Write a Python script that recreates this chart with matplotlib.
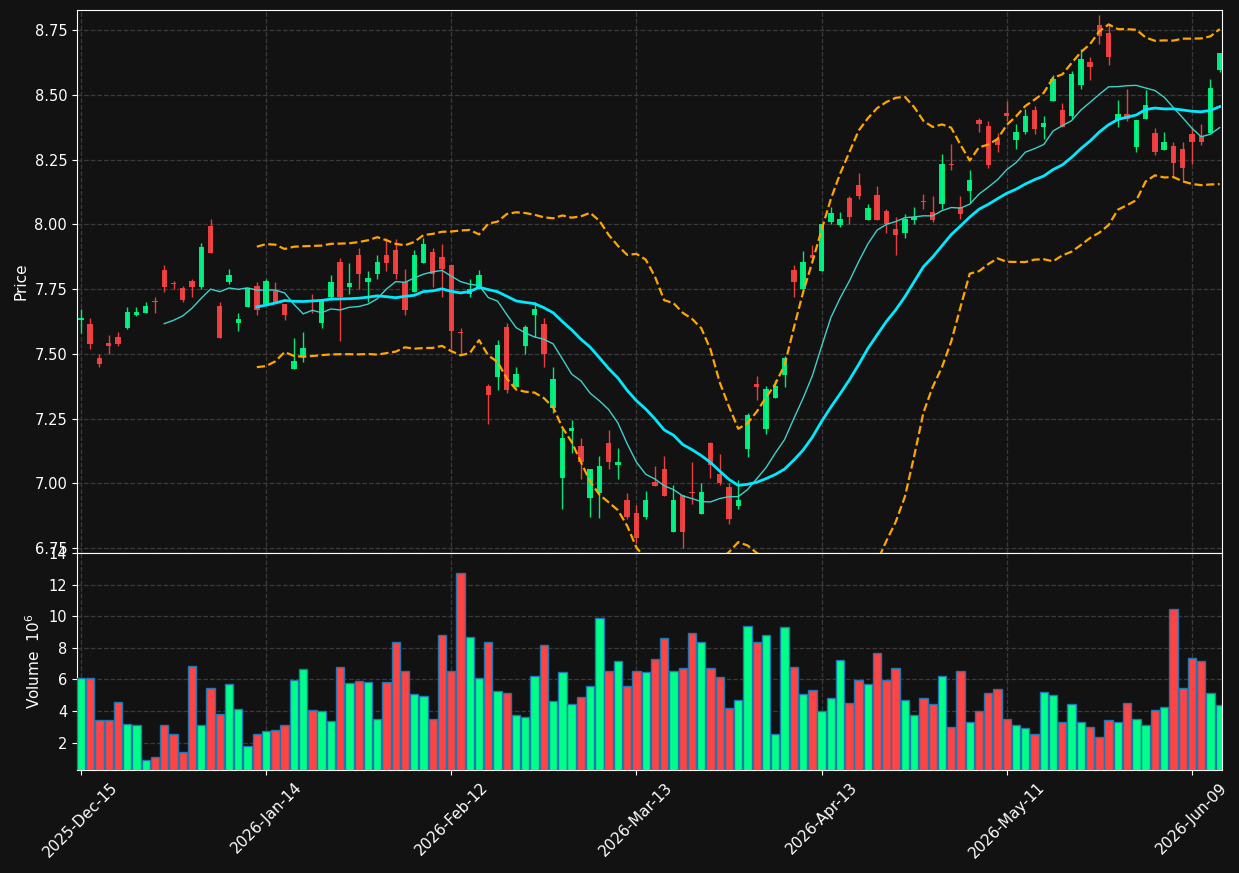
import numpy as np
import pandas as pd
from matplotlib import pyplot as plt
from matplotlib.ticker import MultipleLocator, FormatStrFormatter

# daily OHLC (price) and volume (millions), one row per trading day
opens = [7.631, 7.614, 7.483, 7.541, 7.565, 7.599, 7.650, 7.658, 7.703, 7.823,
         7.774, 7.753, 7.780, 7.758, 7.993, 7.684, 7.778, 7.619, 7.681, 7.761,
         7.694, 7.742, 7.691, 7.441, 7.492, 7.705, 7.619, 7.718, 7.854, 7.758,
         7.881, 7.778, 7.809, 7.881, 7.900, 7.778, 7.739, 7.851, 7.892, 7.873,
         7.842, 7.583, 7.730, 7.752, 7.374, 7.410, 7.602, 7.372, 7.530, 7.650,
         7.614, 7.291, 7.020, 7.202, 7.143, 6.943, 6.962, 7.154, 7.070, 6.934,
         6.884, 6.870, 7.003, 7.054, 6.812, 6.953, 6.964, 6.881, 7.154, 7.034,
         6.984, 6.912, 7.132, 7.382, 7.210, 7.329, 7.418, 7.823, 7.751, 7.882,
         7.820, 8.009, 7.998, 8.101, 8.151, 8.017, 8.112, 8.051, 7.981, 7.968,
         8.017, 8.089, 8.049, 8.078, 8.232, 8.069, 8.129, 8.402, 8.379, 8.329,
         8.429, 8.326, 8.357, 8.441, 8.378, 8.477, 8.441, 8.419, 8.539, 8.629,
         8.769, 8.741, 8.402, 8.428, 8.299, 8.406, 8.352, 8.288, 8.303, 8.290,
         8.351, 8.342, 8.354, 8.595]
highs = [7.672, 7.640, 7.501, 7.572, 7.583, 7.682, 7.682, 7.702, 7.721, 7.842,
         7.780, 7.762, 7.791, 7.930, 8.020, 7.702, 7.829, 7.659, 7.756, 7.779,
         7.791, 7.779, 7.691, 7.563, 7.583, 7.733, 7.708, 7.803, 7.872, 7.852,
         7.910, 7.821, 7.881, 7.949, 7.943, 7.829, 7.900, 7.949, 7.910, 7.923,
         7.842, 7.601, 7.790, 7.823, 7.382, 7.552, 7.620, 7.450, 7.613, 7.700,
         7.640, 7.450, 7.208, 7.243, 7.174, 7.054, 7.104, 7.204, 7.135, 6.964,
         6.915, 6.970, 7.067, 7.105, 6.992, 6.953, 7.083, 7.002, 7.161, 7.112,
         7.002, 7.012, 7.273, 7.413, 7.376, 7.399, 7.492, 7.842, 7.897, 7.922,
         8.001, 8.067, 8.049, 8.110, 8.200, 8.080, 8.148, 8.061, 8.030, 8.042,
         8.069, 8.119, 8.110, 8.271, 8.310, 8.110, 8.209, 8.410, 8.400, 8.355,
         8.477, 8.389, 8.447, 8.458, 8.419, 8.576, 8.470, 8.593, 8.679, 8.648,
         8.808, 8.773, 8.479, 8.522, 8.402, 8.519, 8.371, 8.358, 8.320, 8.320,
         8.376, 8.389, 8.561, 8.661]
lows = [7.582, 7.520, 7.450, 7.501, 7.530, 7.595, 7.648, 7.656, 7.658, 7.739,
        7.752, 7.702, 7.721, 7.752, 7.888, 7.561, 7.770, 7.588, 7.681, 7.650,
        7.694, 7.700, 7.631, 7.441, 7.470, 7.659, 7.601, 7.708, 7.550, 7.733,
        7.752, 7.700, 7.791, 7.821, 7.791, 7.650, 7.739, 7.851, 7.758, 7.721,
        7.517, 7.498, 7.721, 7.752, 7.230, 7.360, 7.350, 7.372, 7.501, 7.566,
        7.450, 7.273, 6.902, 7.118, 7.015, 6.871, 6.864, 7.054, 7.015, 6.861,
        6.770, 6.863, 6.989, 6.951, 6.812, 6.751, 6.921, 6.881, 7.021, 6.992,
        6.844, 6.902, 7.103, 7.322, 7.192, 7.329, 7.373, 7.721, 7.751, 7.869,
        7.820, 8.000, 7.990, 8.000, 8.100, 8.017, 8.017, 7.968, 7.881, 7.949,
        8.000, 8.061, 8.011, 8.061, 8.209, 8.020, 8.084, 8.358, 8.219, 8.281,
        8.400, 8.290, 8.351, 8.351, 8.329, 8.477, 8.376, 8.406, 8.522, 8.558,
        8.698, 8.616, 8.378, 8.400, 8.281, 8.406, 8.268, 8.288, 8.187, 8.170,
        8.232, 8.307, 8.354, 8.590]
closes = [7.640, 7.537, 7.460, 7.530, 7.537, 7.660, 7.660, 7.684, 7.700, 7.758,
          7.770, 7.708, 7.758, 7.912, 7.890, 7.561, 7.803, 7.633, 7.756, 7.669,
          7.780, 7.700, 7.650, 7.471, 7.521, 7.700, 7.708, 7.779, 7.718, 7.772,
          7.809, 7.792, 7.854, 7.851, 7.809, 7.669, 7.881, 7.923, 7.809, 7.827,
          7.588, 7.580, 7.752, 7.803, 7.341, 7.533, 7.359, 7.421, 7.602, 7.672,
          7.501, 7.402, 7.174, 7.212, 7.082, 7.054, 7.065, 7.082, 7.083, 6.870,
          6.790, 6.934, 6.989, 6.951, 6.934, 6.812, 6.962, 6.965, 7.070, 7.001,
          6.862, 6.934, 7.262, 7.372, 7.363, 7.374, 7.483, 7.778, 7.854, 7.869,
          8.001, 8.043, 8.020, 8.029, 8.110, 8.062, 8.017, 8.000, 7.959, 8.020,
          8.030, 8.087, 8.017, 8.232, 8.230, 8.039, 8.170, 8.387, 8.230, 8.307,
          8.419, 8.358, 8.420, 8.369, 8.391, 8.561, 8.376, 8.580, 8.638, 8.608,
          8.728, 8.647, 8.428, 8.406, 8.402, 8.460, 8.280, 8.320, 8.237, 8.218,
          8.319, 8.319, 8.528, 8.661]
volumes = [6.11, 6.11, 3.43, 3.43, 4.59, 3.20, 3.08, 0.86, 1.05, 3.08,
           2.57, 1.37, 6.86, 3.08, 5.47, 3.83, 5.73, 4.15, 1.81, 2.57,
           2.70, 2.82, 3.14, 5.98, 6.67, 4.09, 4.02, 3.39, 6.80, 5.79,
           5.92, 5.85, 3.52, 5.85, 8.38, 6.55, 5.10, 4.97, 3.52, 8.82,
           6.55, 12.74, 8.70, 6.11, 8.38, 5.29, 5.16, 3.77, 3.64, 6.23,
           8.19, 4.65, 6.49, 4.46, 4.91, 5.60, 9.90, 6.55, 7.18, 5.60,
           6.55, 6.49, 7.31, 8.63, 6.55, 6.74, 8.95, 8.38, 6.74, 6.17,
           4.21, 4.72, 9.39, 8.38, 8.82, 2.51, 9.33, 6.80, 5.10, 5.35,
           4.02, 4.84, 7.24, 4.53, 5.98, 5.73, 7.69, 5.98, 6.74, 4.72,
           3.77, 4.84, 4.46, 6.23, 3.01, 6.55, 3.33, 4.02, 5.16, 5.41,
           3.52, 3.14, 2.89, 2.57, 5.22, 5.03, 3.33, 4.46, 3.33, 3.01,
           2.38, 3.45, 3.33, 4.53, 3.52, 3.14, 4.09, 4.27, 10.46, 5.47,
           7.37, 7.18, 5.16, 4.40]

start_date = '2025-12-15'
market_holidays = ['2025-12-25', '2026-01-01', '2026-01-19', '2026-02-16',
                   '2026-04-03', '2026-05-25']

BG = '#121212'
UP = '#00ff88'
DOWN = '#ff4444'


def draw():
  n = len(closes)
  dates = pd.bdate_range(start_date, periods=n, freq='C', holidays=market_holidays)
  x = np.arange(n)
  o, h, l, c = (np.array(a) for a in (opens, highs, lows, closes))
  colors = np.where(c >= o, UP, DOWN)

  s = pd.Series(c)
  ma10 = s.rolling(10).mean()
  ma20 = s.rolling(20).mean()
  sd20 = s.rolling(20).std(ddof=0)

  fig = plt.figure(figsize=(12.39, 8.73), dpi=100, facecolor=BG)
  ax = fig.add_axes([0.0621, 0.3666, 0.9242, 0.6219])
  axv = fig.add_axes([0.0621, 0.118, 0.9242, 0.2486], sharex=ax)

  # candles
  ax.vlines(x, l, h, colors=colors, linewidth=1, alpha=0.9, zorder=2)
  ax.bar(x, np.maximum(np.abs(c - o), 0.004), bottom=np.minimum(o, c),
         width=0.58, color=colors, alpha=0.9, zorder=3)

  # moving averages + bollinger
  ax.plot(x, ma10, color='#3fd0c8', linewidth=1, zorder=4)
  ax.plot(x, ma20, color='#00eaff', linewidth=2, zorder=4)
  ax.plot(x, ma20 + 2 * sd20, color='#ffa500', linestyle='--', linewidth=1.6, zorder=4)
  ax.plot(x, ma20 - 2 * sd20, color='#ffa500', linestyle='--', linewidth=1.6, zorder=4)

  # volume
  axv.bar(x, volumes, width=0.9, color=colors, edgecolor='#1f77b4', linewidth=1, zorder=3)

  pad = 0.01 * (h.max() - l.min())
  ax.set_ylim(l.min() - pad, h.max() + pad)
  axv.set_ylim(0.3 * min(volumes), 1.1 * max(volumes))
  ax.set_xlim(-0.43, n - 1 + 0.25)

  ax.yaxis.set_major_locator(MultipleLocator(0.25))
  ax.yaxis.set_major_formatter(FormatStrFormatter('%.2f'))
  axv.yaxis.set_major_locator(MultipleLocator(2))

  ticks = x[::20]
  axv.set_xticks(ticks)
  axv.set_xticklabels([d.strftime('%Y-%b-%d') for d in dates[ticks]], rotation=45,
                      ha='center', fontsize=11)
  ax.tick_params(labelbottom=False)

  for a in (ax, axv):
    a.set_facecolor(BG)
    a.grid(True, linestyle='--', color='#3a3a3a', linewidth=0.9, zorder=0)
    a.set_axisbelow(True)
    a.tick_params(colors='white')
    a.tick_params(axis='y', labelsize=10.5)
    for sp in a.spines.values():
      sp.set_color('white')

  ax.set_ylabel('Price', color='white', fontsize=11)
  axv.set_ylabel('Volume  $10^{6}$', color='white', fontsize=11)

  fig.savefig('out.png', dpi=100, facecolor=BG)


if __name__ == "__main__":
  draw()
